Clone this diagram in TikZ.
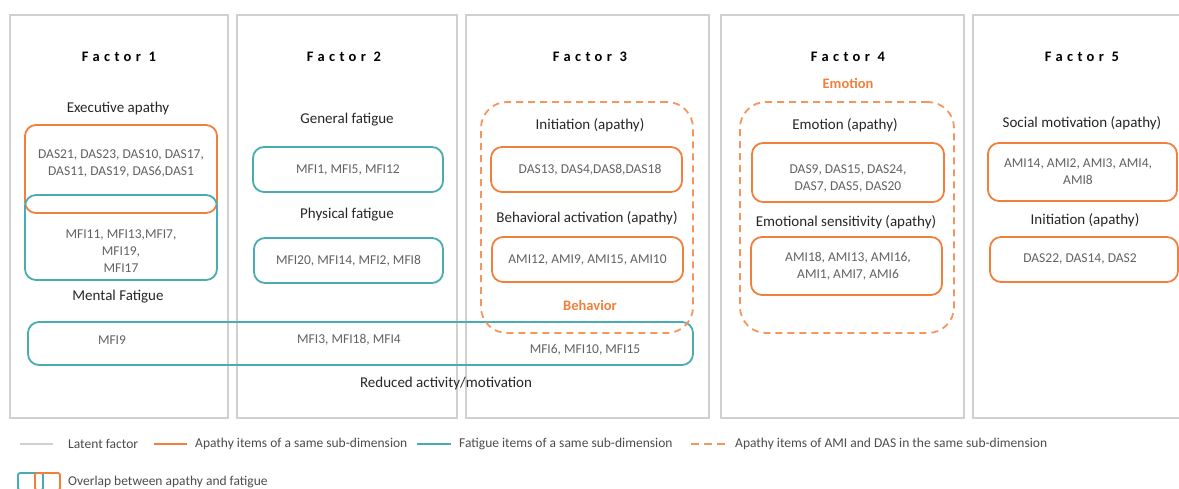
\documentclass[tikz,border=0pt]{standalone}
\usepackage{fontspec}
\setmainfont{Carlito}
\newfontfamily\titlefont[LetterSpace=30]{Carlito}
\definecolor{org}{RGB}{240,128,60}
\definecolor{orgl}{RGB}{246,150,95}
\definecolor{tealc}{RGB}{72,172,176}
\definecolor{pan}{RGB}{208,208,208}
\begin{document}
\begin{tikzpicture}[x=1pt,y=-1pt,
  panel/.style={draw=pan, line width=1.2, rectangle, inner sep=0},
  obox/.style={draw=org, line width=1.8, rounded corners=11, inner sep=0},
  tbox/.style={draw=tealc, line width=1.8, rounded corners=11, inner sep=0},
  dbox/.style={draw=orgl, dash pattern=on 7pt off 5pt, line width=1.8, rounded corners=26, inner sep=0},
  lbl/.style={font=\fontsize{15}{18}\selectfont, text=black!85, inner sep=0},
  item/.style={font=\fontsize{13.5}{17}\selectfont, text=black!62, align=center, inner sep=0},
  ftitle/.style={font=\titlefont\bfseries\fontsize{14.5}{16}\selectfont, inner sep=0},
  olbl/.style={font=\bfseries\fontsize{14.5}{17}\selectfont, text=org, inner sep=0},
  leg/.style={font=\fontsize{13.5}{16}\selectfont, text=black!70, anchor=west, inner sep=0}]
\useasboundingbox (0,0) rectangle (1179,488);
% panels
\node[panel, minimum width=218, minimum height=403] (p1) at (119,216.5) {};
\node[panel, minimum width=220, minimum height=403] (p2) at (347,216.5) {};
\node[panel, minimum width=243, minimum height=403] (p3) at (587.5,216.5) {};
\node[panel, minimum width=243, minimum height=403] (p4) at (842.5,216.5) {};
\node[panel, minimum width=218, minimum height=403] (p5) at (1082,216.5) {};
% titles
\node[ftitle] (t1) at (119,57) {Factor 1};
\node[ftitle] (t2) at (344,57) {Factor 2};
\node[ftitle] (t3) at (590,57) {Factor 3};
\node[ftitle] (t4) at (848,57) {Factor 4};
\node[ftitle] (t5) at (1082,57) {Factor 5};
% factor 1
\node[lbl] (l11) at (118,108) {Executive apathy};
\node[obox, minimum width=192, minimum height=88] (b11) at (121,169) {};
\node[tbox, minimum width=192, minimum height=85] (b12) at (121,237.5) {};
\node[item] (i11) at (121,163.5) {DAS21, DAS23, DAS10, DAS17,\\DAS11, DAS19, DAS6,DAS1};
\node[item] (i12) at (121,251) {MFI11, MFI13,MFI7,\\MFI19,\\MFI17};
\node[lbl] (l12) at (118,297) {Mental Fatigue};
% long reduced activity box
\node[tbox, minimum width=665, minimum height=43] (bl) at (360.5,343.5) {};
\node[item] (il1) at (112,340) {MFI9};
\node[item] (il2) at (349,340) {MFI3, MFI18, MFI4};
\node[item] (il3) at (585,350) {MFI6, MFI10, MFI15};
\node[lbl] (ll) at (446,383) {Reduced activity/motivation};
% factor 2
\node[lbl] (l21) at (347,120) {General fatigue};
\node[tbox, minimum width=190, minimum height=45] (b21) at (348,169.5) {};
\node[item] (i21) at (348,170) {MFI1, MFI5, MFI12};
\node[lbl] (l22) at (347,215) {Physical fatigue};
\node[tbox, minimum width=189, minimum height=45] (b22) at (348.5,260.5) {};
\node[item] (i22) at (348.5,261) {MFI20, MFI14, MFI2, MFI8};
% factor 3
\node[dbox, minimum width=212, minimum height=231] (d3) at (587,217.5) {};
\node[lbl] (l31) at (590,125) {Initiation (apathy)};
\node[obox, minimum width=191, minimum height=45] (b31) at (586.5,169.5) {};
\node[item] (i31) at (590,170) {DAS13, DAS4,DAS8,DAS18};
\node[lbl] (l32) at (587,218) {Behavioral activation (apathy)};
\node[obox, minimum width=191, minimum height=45] (b32) at (587.5,259.5) {};
\node[item] (i32) at (587.5,260) {AMI12, AMI9, AMI15, AMI10};
\node[olbl] (o3) at (590,305) {Behavior};
% factor 4
\node[olbl] (o4) at (848,83) {Emotion};
\node[dbox, minimum width=214, minimum height=231] (d4) at (847,217.5) {};
\node[lbl] (l41) at (845,125) {Emotion (apathy)};
\node[obox, minimum width=192, minimum height=59] (b41) at (848,172.5) {};
\node[item] (i41) at (848,178.5) {DAS9, DAS15, DAS24,\\DAS7, DAS5, DAS20};
\node[lbl] (l42) at (846,222) {Emotional sensitivity (apathy)};
\node[obox, minimum width=191, minimum height=58] (b42) at (846.5,266) {};
\node[item] (i42) at (848,266.5) {AMI18, AMI13, AMI16,\\AMI1, AMI7, AMI6};
% factor 5
\node[lbl] (l51) at (1082,123) {Social motivation (apathy)};
\node[obox, minimum width=189, minimum height=58] (b51) at (1082.5,172) {};
\node[item] (i51) at (1078,172) {AMI14, AMI2, AMI3, AMI4,\\AMI8};
\node[lbl] (l52) at (1085,220) {Initiation (apathy)};
\node[obox, minimum width=188, minimum height=45] (b52) at (1084,259.5) {};
\node[item] (i52) at (1080,259) {DAS22, DAS14, DAS2};
% legend
\coordinate (g1a) at (20,444); \coordinate (g1b) at (53,444);
\coordinate (g2a) at (154,444); \coordinate (g2b) at (187,444);
\coordinate (g3a) at (417,444); \coordinate (g3b) at (451,444);
\coordinate (g4a) at (691,444); \coordinate (g4b) at (727,444);
\draw[pan, line width=1.8] (g1a) -- (g1b);
\draw[org, line width=1.8] (g2a) -- (g2b);
\draw[tealc, line width=1.8] (g3a) -- (g3b);
\draw[orgl, line width=2.2, dash pattern=on 8pt off 5pt] (g4a) -- (g4b);
\node[leg] (lg1) at (68,444) {Latent factor};
\node[leg] (lg2) at (195,444) {Apathy items of a same sub-dimension};
\node[leg] (lg3) at (459,444) {Fatigue items of a same sub-dimension};
\node[leg] (lg4) at (735,444) {Apathy items of AMI and DAS in the same sub-dimension};
\node[draw=tealc, line width=1.8, rounded corners=2, minimum width=25, minimum height=17, inner sep=0] (ov1) at (30.5,481.5) {};
\node[draw=org, line width=1.8, rounded corners=2, minimum width=25, minimum height=17, inner sep=0] (ov2) at (47.5,481.5) {};
\node[leg] (lg5) at (68,482) {Overlap between apathy and fatigue};
\end{tikzpicture}
\end{document}
